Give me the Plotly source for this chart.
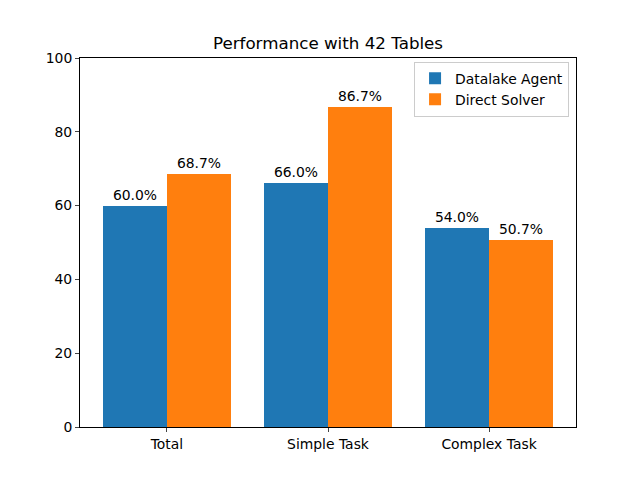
import plotly.graph_objects as go

categories = ["Total", "Simple Task", "Complex Task"]
agent_values = [60.0, 66.0, 54.0]
solver_values = [68.7, 86.7, 50.7]
series_names = ["Datalake Agent", "Direct Solver"]
colors = ["#1f77b4", "#ff7f0e"]
yticks = [0, 20, 40, 60, 80, 100]

x = list(range(len(categories)))
w = 0.4

fig = go.Figure()
for i, (name, vals) in enumerate(zip(series_names, [agent_values, solver_values])):
    off = -w / 2 if i == 0 else w / 2
    fig.add_trace(go.Bar(
        x=[xi + off for xi in x], y=vals, width=w, name=name,
        marker=dict(color=colors[i], line=dict(width=0)),
        text=[f"{v:.1f}%" for v in vals], textposition="outside",
        textfont=dict(size=13.9, color="black"), cliponaxis=False,
    ))

fig.update_layout(
    width=640, height=480,
    margin=dict(l=72, r=72, t=50, b=61),
    paper_bgcolor="white", plot_bgcolor="white",
    font=dict(family="DejaVu Sans", size=13.9, color="black"),
    title=dict(text="Performance with 42 Tables", x=0.5, xanchor="center",
               y=1 - 35 / 480, yanchor="middle", font=dict(size=16.7)),
    bargap=0, showlegend=True,
    legend=dict(x=0.986, y=0.99, xanchor="right", yanchor="top",
                bordercolor="#cccccc", borderwidth=1, bgcolor="rgba(255,255,255,0.8)",
                font=dict(size=13.9), tracegroupgap=0),
)
fig.update_xaxes(range=[-0.54, 2.54], tickvals=x, ticktext=categories,
                 showline=True, linecolor="black", linewidth=1, mirror=True,
                 ticks="outside", ticklen=4, showgrid=False, zeroline=False)
fig.update_yaxes(range=[0, 100], tickvals=yticks,
                 showline=True, linecolor="black", linewidth=1, mirror=True,
                 ticks="outside", ticklen=4, showgrid=False, zeroline=False)

fig.write_html("out.html")
